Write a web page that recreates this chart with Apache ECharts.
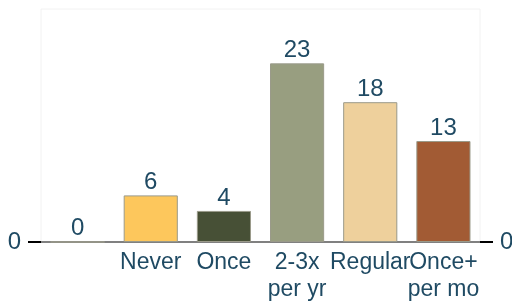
<!DOCTYPE html>
<html>
<head>
<meta charset="utf-8">
<script src="https://cdn.jsdelivr.net/npm/echarts@6/dist/echarts.min.js"></script>
<style>
  html, body { margin: 0; padding: 0; background: #fff; }
  #chart { width: 512px; height: 302px; }
</style>
</head>
<body>
<div id="chart"></div>
<script>
  var categories = ['', 'Never', 'Once', '2-3x\nper yr', 'Regular', 'Once+\nper mo']
  var counts = [0, 6, 4, 23, 18, 13]
  var barColors = ['#ffffff', '#fdc75c', '#475036', '#989e80', '#eed09c', '#a25b34']
  var yTicks = [0]

  var textColor = '#1f4a63'
  var chart = echarts.init(document.getElementById('chart'))

  function yAxisCfg(pos) {
    return {
      type: 'value',
      position: pos,
      min: 0,
      max: 30,
      splitLine: {show: false},
      axisLine: {show: false},
      axisTick: {show: true, customValues: yTicks, length: 13, lineStyle: {color: '#000', width: 2}},
      axisLabel: {customValues: yTicks, color: textColor, fontSize: 24, fontFamily: 'Liberation Sans', margin: 20}
    }
  }

  var option = {
    animation: false,
    grid: {left: 41, right: 32, top: 9, bottom: 60, outerBoundsMode: 'none', show: true, borderColor: '#f2f2f2', borderWidth: 1},
    xAxis: {
      type: 'category',
      data: categories,
      axisTick: {show: false},
      axisLine: {lineStyle: {color: '#808080', width: 2}},
      axisLabel: {color: textColor, fontSize: 23, fontFamily: 'Liberation Sans', margin: 7, lineHeight: 27, interval: 0}
    },
    yAxis: [yAxisCfg('left'), yAxisCfg('right')],
    series: [{
      type: 'bar',
      barWidth: '74%',
      data: counts.map(function (v, i) {
        return {value: v, itemStyle: {color: barColors[i]}}
      }),
      itemStyle: {borderColor: '#9a9a8a', borderWidth: 1},
      label: {show: true, position: 'top', color: textColor, fontSize: 24, fontFamily: 'Liberation Sans', distance: 1}
    }]
  }
  chart.setOption(option)
</script>
</body>
</html>
